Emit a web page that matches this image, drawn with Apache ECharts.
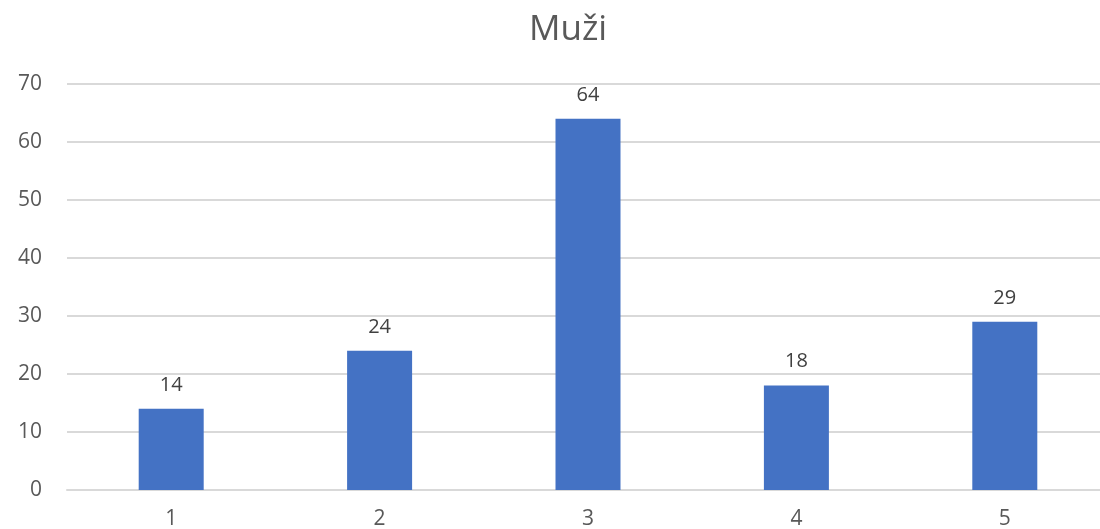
<!DOCTYPE html>
<html>
<head>
<meta charset="utf-8">
<script src="https://cdn.jsdelivr.net/npm/echarts@6/dist/echarts.min.js"></script>
<style>
  html, body { margin: 0; padding: 0; background: #fff; }
  #chart { width: 1100px; height: 529px; }
</style>
</head>
<body>
<div id="chart"></div>
<script>
const categories = ['1', '2', '3', '4', '5'];
const values = [14, 24, 64, 18, 29];
const chartTitle = 'Muži';

const chart = echarts.init(document.getElementById('chart'));

const option = {
    animation: false,
    title: {
        text: chartTitle,
        left: 524,
        top: 8,
        textStyle: { fontFamily: 'Open Sans', fontSize: 35, fontWeight: 'normal', color: '#595959' }
    },
    grid: {
        left: 67,
        top: 84,
        width: 1042,
        bottom: 39,
        outerBoundsMode: 'none'
    },
    xAxis: {
        type: 'category',
        data: categories,
        axisLine: { lineStyle: { color: '#d9d9d9', width: 2 } },
        axisTick: { show: false },
        axisLabel: { color: '#595959', fontSize: 21, fontFamily: 'Open Sans', margin: 19 }
    },
    yAxis: {
        type: 'value',
        min: 0,
        max: 70,
        interval: 10,
        axisLine: { show: false },
        axisTick: { show: false },
        splitLine: { lineStyle: { color: '#d9d9d9', width: 2 } },
        axisLabel: { color: '#595959', fontSize: 21, fontFamily: 'Open Sans', margin: 25 }
    },
    series: [
        {
            type: 'bar',
            data: values,
            barWidth: 65,
            itemStyle: { color: '#4472C4' },
            label: {
                show: true,
                position: 'top',
                distance: 14,
                color: '#404040',
                fontSize: 20,
                fontFamily: 'Open Sans'
            }
        }
    ]
};

chart.setOption(option);
</script>
</body>
</html>
